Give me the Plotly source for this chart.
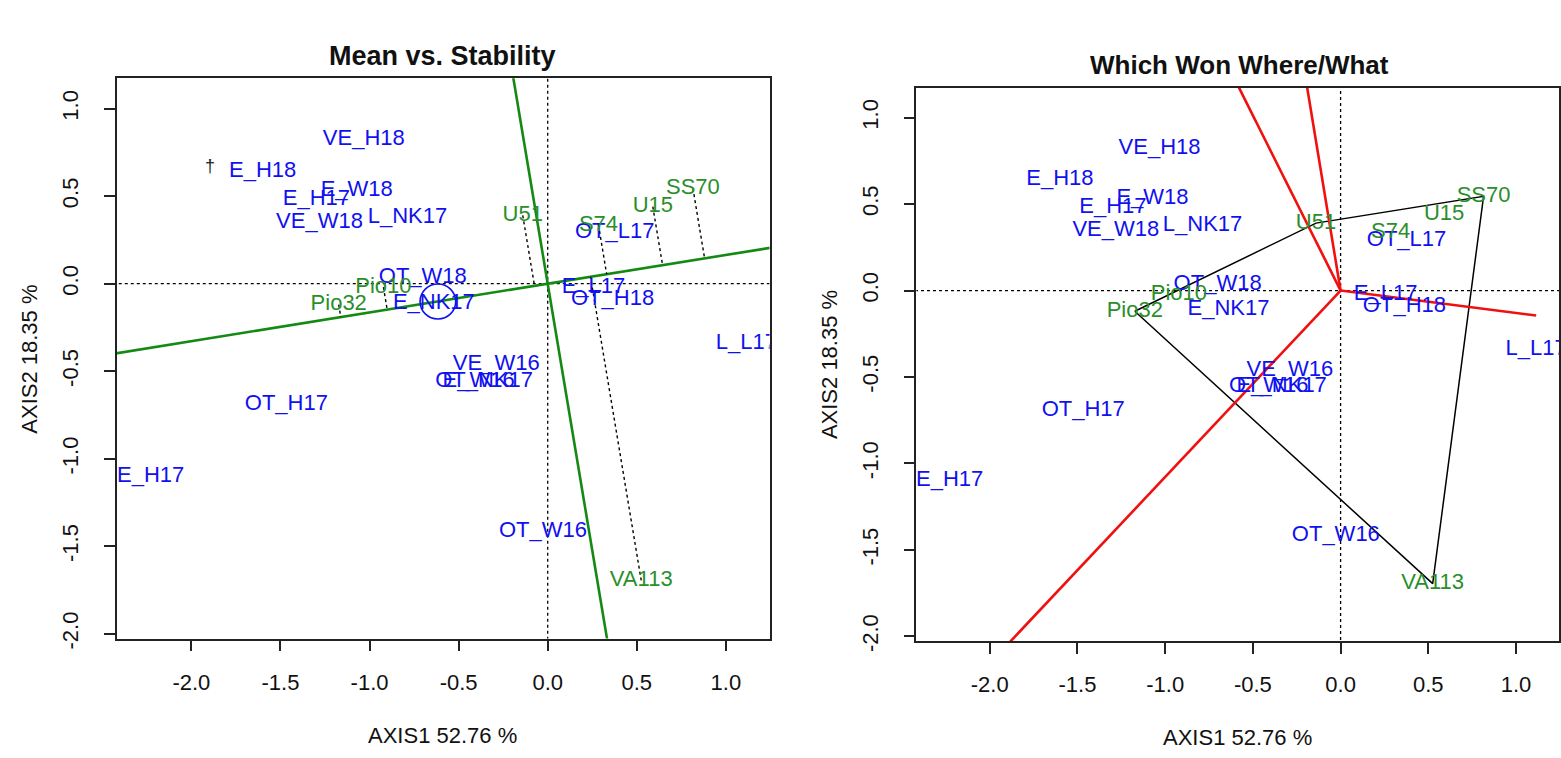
import numpy as np
import plotly.graph_objects as go

# ---- biplot scores (axis 1, axis 2) ----
env_names = ["VE_H18", "E_H18", "E_W18", "E_H17", "VE_W18", "L_NK17", "OT_W18",
             "E_NK17", "OT_L17", "E_L17", "OT_H18", "L_L17", "VE_W16", "OT_NK17",
             "E_W16", "OT_H17", "VE_H17", "OT_W16"]
env_x = [-1.032, -1.600, -1.072, -1.298, -1.281, -0.787, -0.701,
         -0.639, 0.376, 0.257, 0.364, 1.115, -0.289, -0.357,
         -0.388, -1.467, -2.270, -0.027]
env_y = [0.824, 0.643, 0.530, 0.480, 0.348, 0.376, 0.034,
         -0.112, 0.290, -0.022, -0.092, -0.340, -0.462, -0.556,
         -0.556, -0.691, -1.099, -1.417]

gen_names = ["Pio10", "Pio32", "U51", "S74", "U15", "SS70", "VA113"]
gen_x = [-0.922, -1.173, -0.140, 0.285, 0.590, 0.815, 0.525]
gen_y = [-0.020, -0.120, 0.390, 0.335, 0.440, 0.545, -1.695]

mark_text = ["\u2020"]
mark_x = [-1.896]
mark_y = [0.661]

tick_vals = [-2.0, -1.5, -1.0, -0.5, 0.0, 0.5, 1.0]
tick_text = ["-2.0", "-1.5", "-1.0", "-0.5", "0.0", "0.5", "1.0"]
axis1_label = "AXIS1 52.76 %"
axis2_label = "AXIS2 18.35 %"
titles = ["Mean vs. Stability", "Which Won Where/What"]

X_RANGE = [-2.418, 1.245]
Y_RANGE = [-2.027, 1.173]

W, H = 1561, 758
FONT = "Liberation Sans, Arial, sans-serif"
ENV_COL = "#1010f0"
GEN_COL = "#2a8f2a"
GREEN_LINE = "#138a13"

ex, ey = np.array(env_x), np.array(env_y)
gx, gy = np.array(gen_x), np.array(gen_y)


def fx(px):
    return px / W


def fy(py):
    return 1 - py / H


fig = go.Figure()

# panel pixel boxes: (left, right, top, bottom)
boxes = {1: (117, 770, 79.5, 648), 2: (917, 1560, 89, 650.5)}


def add_common(col):
    xa = "x" if col == 1 else "x2"
    ya = "y" if col == 1 else "y2"
    # dotted reference lines through the origin
    fig.add_trace(go.Scatter(x=[X_RANGE[0] - 1, X_RANGE[1] + 1], y=[0, 0], mode="lines",
                             line=dict(color="black", width=1.3, dash="dot"),
                             xaxis=xa, yaxis=ya, hoverinfo="skip", showlegend=False))
    fig.add_trace(go.Scatter(x=[0, 0], y=[Y_RANGE[0] - 1, Y_RANGE[1] + 1], mode="lines",
                             line=dict(color="black", width=1.3, dash="dot"),
                             xaxis=xa, yaxis=ya, hoverinfo="skip", showlegend=False))
    return xa, ya


def add_labels(xa, ya):
    fig.add_trace(go.Scatter(x=env_x, y=env_y, text=env_names, mode="text",
                             textposition="middle center",
                             textfont=dict(family=FONT, size=22, color=ENV_COL),
                             xaxis=xa, yaxis=ya, hoverinfo="text", showlegend=False))
    fig.add_trace(go.Scatter(x=gen_x, y=gen_y, text=gen_names, mode="text",
                             textposition="middle center",
                             textfont=dict(family=FONT, size=22, color=GEN_COL),
                             xaxis=xa, yaxis=ya, hoverinfo="text", showlegend=False))


# ---------------- Mean vs. Stability ----------------
xa, ya = add_common(1)
mx, my = ex.mean(), ey.mean()
far = 20.0
# average-environment axis and its perpendicular through the origin
fig.add_trace(go.Scatter(x=[-far, far], y=[-far * my / mx, far * my / mx], mode="lines",
                         line=dict(color=GREEN_LINE, width=2.6),
                         xaxis=xa, yaxis=ya, hoverinfo="skip", showlegend=False))
fig.add_trace(go.Scatter(x=[-far * my / mx * 0.2, far * my / mx * 0.2],
                         y=[far * 0.2, -far * 0.2], mode="lines",
                         line=dict(color=GREEN_LINE, width=2.6),
                         xaxis=xa, yaxis=ya, hoverinfo="skip", showlegend=False))
# projections of genotypes onto the average-environment axis
u = np.array([mx, my]) / np.hypot(mx, my)
px_, py_ = [], []
for x0, y0 in zip(gx, gy):
    t = x0 * u[0] + y0 * u[1]
    px_ += [x0, t * u[0], None]
    py_ += [y0, t * u[1], None]
fig.add_trace(go.Scatter(x=px_, y=py_, mode="lines",
                         line=dict(color="black", width=1.4, dash="dot"),
                         xaxis=xa, yaxis=ya, hoverinfo="skip", showlegend=False))
# average-environment marker
r = 0.1
fig.add_shape(type="circle", xref="x", yref="y", x0=mx - r, x1=mx + r, y0=my - r, y1=my + r,
              line=dict(color=ENV_COL, width=1.6))
add_labels(xa, ya)
fig.add_trace(go.Scatter(x=mark_x, y=mark_y, text=mark_text, mode="text",
                         textfont=dict(family=FONT, size=18, color="#222"),
                         xaxis=xa, yaxis=ya, hoverinfo="skip", showlegend=False))

# ---------------- Which Won Where/What ----------------
xa, ya = add_common(2)


def hull(points):
    pts = sorted(points)

    def cross(o, a, b):
        return (a[0] - o[0]) * (b[1] - o[1]) - (a[1] - o[1]) * (b[0] - o[0])
    lower, upper = [], []
    for p in pts:
        while len(lower) >= 2 and cross(lower[-2], lower[-1], p) <= 0:
            lower.pop()
        lower.append(p)
    for p in reversed(pts):
        while len(upper) >= 2 and cross(upper[-2], upper[-1], p) <= 0:
            upper.pop()
        upper.append(p)
    return lower[:-1] + upper[:-1]


hv = hull(list(zip(gen_x, gen_y)))
hx = [p[0] for p in hv] + [hv[0][0]]
hy = [p[1] for p in hv] + [hv[0][1]]
fig.add_trace(go.Scatter(x=hx, y=hy, mode="lines", line=dict(color="black", width=1.5),
                         xaxis=xa, yaxis=ya, hoverinfo="skip", showlegend=False))

# rays from the origin perpendicular to each polygon side
all_x = np.concatenate([ex, gx])
rx, ry = [], []
for i in range(len(hv)):
    (x1, y1), (x2, y2) = hv[i], hv[(i + 1) % len(hv)]
    m = (y2 - y1) / (x2 - x1)
    mperp = -1.0 / m
    c2 = y2 - m * x2
    xint = -c2 / (m - mperp)
    xend = all_x.min() if xint < 0 else all_x.max()
    rx += [0, xend, None]
    ry += [0, mperp * xend, None]
fig.add_trace(go.Scatter(x=rx, y=ry, mode="lines", line=dict(color="#f01010", width=2.6),
                         xaxis=xa, yaxis=ya, hoverinfo="skip", showlegend=False))
add_labels(xa, ya)

# ---------------- axes ----------------
ax_common = dict(showgrid=False, zeroline=False, showline=True, mirror=True,
                 linecolor="#222", linewidth=1.8, ticks="outside", ticklen=11,
                 tickwidth=1.6, tickcolor="#222", tickvals=tick_vals, ticktext=tick_text,
                 tickfont=dict(family=FONT, size=22, color="#111"))

for col, (l, rgt, t, b) in boxes.items():
    sx = "" if col == 1 else "2"
    fig.update_layout(**{
        "xaxis" + sx: dict(ax_common, range=X_RANGE, domain=[fx(l), fx(rgt)],
                           anchor="y" + sx, ticklabelstandoff=12),
        "yaxis" + sx: dict(ax_common, range=Y_RANGE, domain=[fy(b), fy(t)],
                           anchor="x" + sx, tickangle=-90, ticklabelstandoff=17),
    })

ann = []
title_pos = [(443, 57), (1240, 66)]
title_size = [27, 26]
xlab_pos = [(443, 746), (1238, 748)]
ylab_pos = [(30, 364), (830, 370)]
for k in range(2):
    ann.append(dict(text="<b>" + titles[k] + "</b>", x=fx(title_pos[k][0]), y=fy(title_pos[k][1]),
                    xref="paper", yref="paper", showarrow=False, xanchor="center", yanchor="middle",
                    font=dict(family=FONT, size=title_size[k], color="#111")))
    ann.append(dict(text=axis1_label, x=fx(xlab_pos[k][0]), y=fy(xlab_pos[k][1]),
                    xref="paper", yref="paper", showarrow=False, xanchor="center", yanchor="middle",
                    font=dict(family=FONT, size=22, color="#111")))
    ann.append(dict(text=axis2_label, x=fx(ylab_pos[k][0]), y=fy(ylab_pos[k][1]),
                    xref="paper", yref="paper", showarrow=False, xanchor="center", yanchor="middle",
                    textangle=-90, font=dict(family=FONT, size=22, color="#111")))

fig.update_layout(width=W, height=H, margin=dict(l=0, r=0, t=0, b=0),
                  paper_bgcolor="white", plot_bgcolor="white", annotations=ann,
                  showlegend=False)

fig.write_html("out.html")
